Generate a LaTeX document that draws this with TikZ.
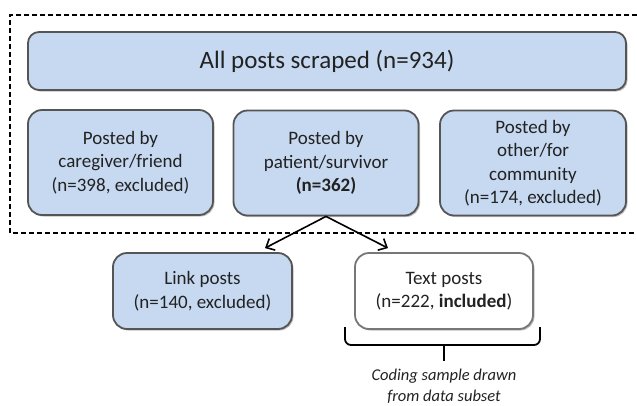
\documentclass[tikz,border=0pt]{standalone}
\usepackage{fontspec}
\setmainfont{Carlito}
\usetikzlibrary{arrows.meta,shadows}
\definecolor{boxblue}{HTML}{C6D9F1}
\definecolor{boxedge}{HTML}{555555}
\definecolor{txt}{HTML}{222222}
\begin{document}
\begin{tikzpicture}[x=1pt,y=-1pt,
  card/.style={draw=boxedge,line width=1.8pt,fill=boxblue,rounded corners=14pt,
    align=center,inner sep=0pt,text=txt,font=\fontsize{19}{23.5}\selectfont,
    drop shadow={shadow xshift=1.5pt,shadow yshift=-1.5pt,opacity=0.25,fill=black}},
  topcard/.style={card,rounded corners=11pt,font=\fontsize{25}{30}\selectfont},
  whitecard/.style={card,fill=white,draw=boxedge!80},
  conn/.style={line width=1.6pt,-{Straight Barb[length=7pt,width=13pt,line width=1.6pt]}},
  bracket/.style={line width=1.8pt,draw=black},
  note/.style={align=center,text=txt,font=\fontsize{16.5}{20.5}\selectfont\itshape,inner sep=0pt}]
\useasboundingbox (0,0) rectangle (637,405);
% dashed frame (right side runs beyond the picture)
\draw[line width=1.5pt,dash pattern=on 5pt off 3pt] (645,15) -- (10,15) -- (10,233) -- (645,233);
\node[topcard,minimum width=598,minimum height=58] (all) at (327,61) {All posts scraped (n=934)};
\node[card,minimum width=185,minimum height=105] (care) at (120.5,162.5)
  {Posted by\\caregiver/friend\\(n=398, excluded)};
\node[card,minimum width=185,minimum height=105] (pat) at (326,163)
  {Posted by\\patient/survivor\\\textbf{(n=362)}};
\node[card,minimum width=186,minimum height=105] (oth) at (533,163)
  {Posted by\\other/for\\community\\(n=174, excluded)};
\node[card,minimum width=179,minimum height=76] (link) at (202.5,291)
  {Link posts\\(n=140, excluded)};
\node[whitecard,minimum width=178,minimum height=76] (text) at (444,291)
  {Text posts\\(n=222, \textbf{included})};
\draw[conn] (pat.south) -- ([shift={(62.5,-4)}]link.north);
\draw[conn] (pat.south) -- ([shift={(-56,-4)}]text.north);
% bracket under text posts
\coordinate (bl) at (345,327);
\coordinate (br) at (540,327);
\coordinate (bm) at (444,345);
\coordinate (bt) at (444,361);
\draw[bracket,rounded corners=6pt] (bl) |- (bm) -| (br);
\draw[bracket] (bm) -- (bt);
\node[note] (cap) at (444,386) {Coding sample drawn\\from data subset};
\end{tikzpicture}
\end{document}
